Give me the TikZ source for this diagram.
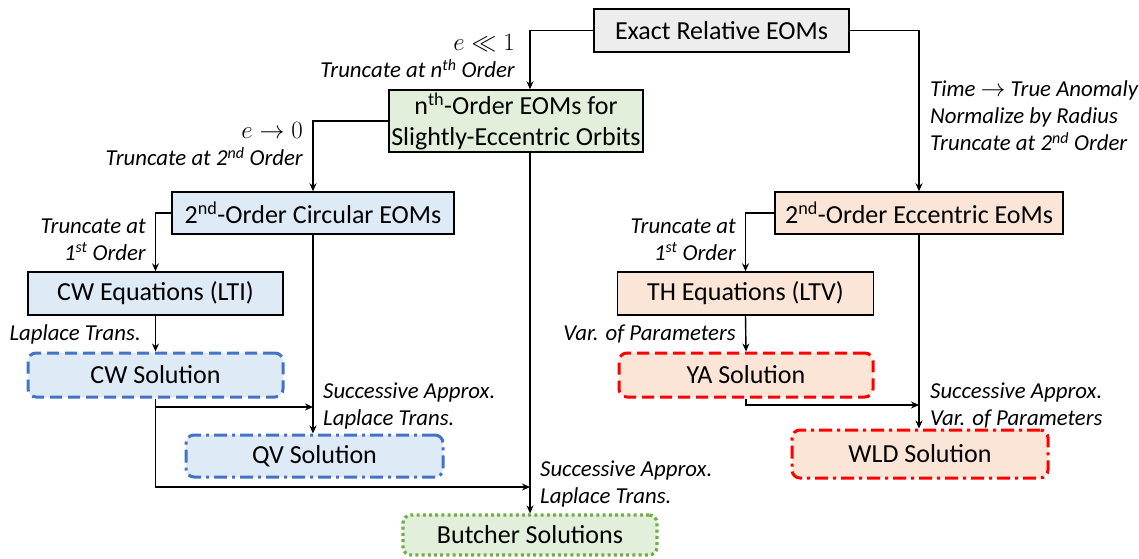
\documentclass[tikz,border=0pt]{standalone}
\usepackage{fontspec}
\setmainfont{Carlito}
\usetikzlibrary{arrows.meta,calc}
\definecolor{greyfill}{HTML}{EDEDED}
\definecolor{greenfill}{HTML}{E2EFDA}
\definecolor{bluefill}{HTML}{DEEBF7}
\definecolor{orangefill}{HTML}{FBE5D6}
\definecolor{blueline}{HTML}{4472C4}
\definecolor{redline}{HTML}{FF0000}
\definecolor{greenline}{HTML}{70AD47}
\newcommand{\boxfont}{\fontsize{26}{31}\selectfont}
\newcommand{\lblfont}{\fontsize{22.8}{27}\selectfont\itshape}
\newcommand{\mymath}[1]{{\fontsize{24}{27}\selectfont$#1$}}
\tikzset{
  box/.style={draw=black, line width=1.5pt, inner sep=0pt, align=center, font=\boxfont},
  sol/.style={inner sep=0pt, align=center, font=\boxfont, rounded corners=8pt, line width=3pt},
  dashbox/.style={sol, dash pattern=on 12pt off 6pt},
  dashdotbox/.style={sol, dash pattern=on 13pt off 5pt on 3pt off 5pt},
  dotbox/.style={sol, line width=3.2pt, dash pattern=on 3pt off 3.2pt},
  arr/.style={line width=1.4pt, -{Stealth[length=8pt,width=7pt]}},
  lbl/.style={font=\lblfont, inner sep=0pt},
}
\begin{document}
\begin{tikzpicture}[x=1pt,y=-1pt]
\useasboundingbox (0,0) rectangle (1139,558);
% nodes
\node[box, fill=greyfill, minimum width=255pt, minimum height=43pt] (exact) at (721.5,30.5) {Exact Relative EOMs};
\node[box, fill=greenfill, minimum width=254pt, minimum height=62pt] (nth) at (516,121) {n\textsuperscript{th}-Order EOMs for\\Slightly-Eccentric Orbits};
\node[box, fill=bluefill, minimum width=282pt, minimum height=42pt] (circ) at (313,213) {2\textsuperscript{nd}-Order Circular EOMs};
\node[box, fill=bluefill, minimum width=255pt, minimum height=43pt] (cweq) at (155.5,293.5) {CW Equations (LTI)};
\node[dashbox, draw=blueline, fill=bluefill, minimum width=255pt, minimum height=44pt] (cwsol) at (155.5,375) {CW Solution};
\node[dashdotbox, draw=blueline, fill=bluefill, minimum width=257pt, minimum height=42pt] (qv) at (314.5,456) {QV Solution};
\node[dotbox, draw=greenline, fill=greenfill, minimum width=254pt, minimum height=40pt] (butcher) at (530,535) {Butcher Solutions};
\node[box, fill=orangefill, minimum width=288pt, minimum height=42pt] (ecc) at (919,213) {2\textsuperscript{nd}-Order Eccentric EoMs};
\node[box, fill=orangefill, minimum width=256pt, minimum height=43pt] (th) at (745.5,293.5) {TH Equations (LTV)};
\node[dashbox, draw=redline, fill=orangefill, minimum width=254pt, minimum height=44pt] (ya) at (746,375) {YA Solution};
\node[dashdotbox, draw=redline, fill=orangefill, minimum width=256pt, minimum height=48pt] (wld) at (920,454) {WLD Solution};
% helper coordinates
\coordinate (m1) at ($(circ.south |- 0,407)$);
\coordinate (m2) at ($(butcher.north |- 0,487)$);
\coordinate (m3) at ($(ecc.south |- 0,405)$);
% connectors
\draw[arr] (exact.west) -| (nth.north -| butcher.north);
\draw[arr] (exact.east) -| (ecc.north);
\draw[arr] (nth.west) -| (circ.north);
\draw[arr] (nth.south -| butcher.north) -- (butcher.north);
\draw[arr] (circ.west) -| (cweq.north);
\draw[arr] (circ.south) -- (circ.south |- qv.north);
\draw[arr] (cweq.south) -- (cwsol.north);
\draw[arr] (cwsol.south) |- (m1);
\draw[arr] (cwsol.south) |- (m2);
\draw[arr] (ecc.west) -| (th.north);
\draw[arr] (ecc.south) -- (ecc.south |- wld.north);
\draw[arr] (th.south) -- (ya.north);
\draw[arr] (ya.south) |- (m3);
% labels
\node[lbl, anchor=east, align=right] (l1) at (515,56.5) {\mymath{e \ll 1}\\Truncate at n\textsuperscript{th} Order};
\node[lbl, anchor=west, align=left] (l2) at (930,116) {Time \mymath{\rightarrow} True Anomaly\\Normalize by Radius\\Truncate at 2\textsuperscript{nd} Order};
\node[lbl, anchor=east, align=right] (l3) at (303,144.5) {\mymath{e \rightarrow 0}\\Truncate at 2\textsuperscript{nd} Order};
\node[lbl, anchor=east, align=right] (l4) at (146,239.5) {Truncate at\\1\textsuperscript{st} Order};
\node[lbl, anchor=east] (l5) at (141,334) {Laplace Trans.};
\node[lbl, anchor=west, align=left] (l6) at (323,405.5) {Successive Approx.\\Laplace Trans.};
\node[lbl, anchor=west, align=left] (l7) at (540,483.5) {Successive Approx.\\Laplace Trans.};
\node[lbl, anchor=east, align=right] (l8) at (736,239.5) {Truncate at\\1\textsuperscript{st} Order};
\node[lbl, anchor=east] (l9) at (736,334) {Var. of Parameters};
\node[lbl, anchor=west, align=left] (l10) at (930,405.5) {Successive Approx.\\Var. of Parameters};
\end{tikzpicture}
\end{document}
